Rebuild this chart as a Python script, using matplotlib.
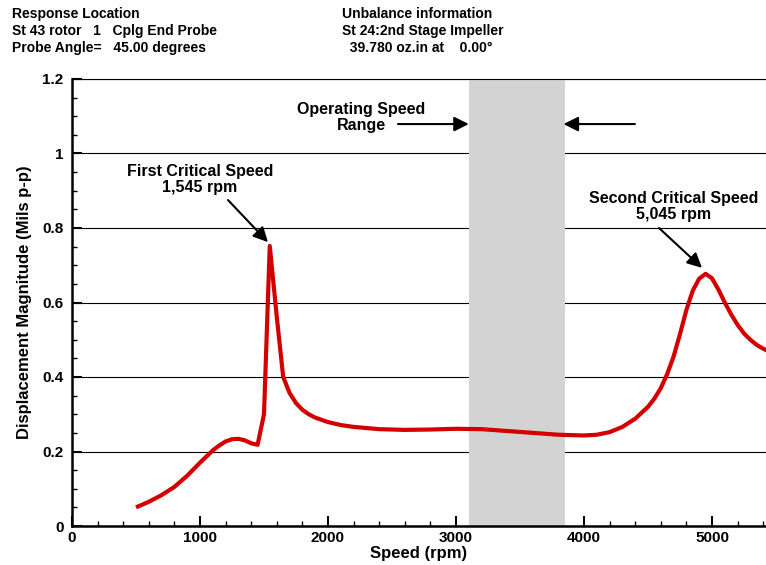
import matplotlib
matplotlib.use('Agg')
import matplotlib.pyplot as plt
from matplotlib.ticker import MultipleLocator

plt.rcParams['font.family'] = ['Liberation Sans', 'DejaVu Sans']
plt.rcParams['font.weight'] = 'bold'

# response curve
speed = [500, 600, 700, 800, 900, 1000, 1100, 1150, 1200, 1250, 1300, 1350,
         1400, 1450, 1500, 1545, 1600, 1650, 1700, 1750, 1800, 1850, 1900,
         2000, 2100, 2200, 2400, 2600, 2800, 3000, 3200, 3400, 3600, 3800,
         4000, 4100, 4200, 4300, 4400, 4500, 4550, 4600, 4650, 4700, 4750,
         4800, 4850, 4900, 4950, 5000, 5050, 5100, 5150, 5200, 5250, 5300,
         5350, 5400, 5450]
amplitude = [0.050, 0.065, 0.083, 0.105, 0.135, 0.170, 0.203, 0.216, 0.227,
             0.233, 0.234, 0.230, 0.222, 0.218, 0.300, 0.752, 0.561, 0.400,
             0.357, 0.330, 0.312, 0.300, 0.291, 0.279, 0.271, 0.266, 0.260,
             0.258, 0.259, 0.261, 0.260, 0.255, 0.250, 0.245, 0.243, 0.245,
             0.252, 0.266, 0.288, 0.320, 0.342, 0.370, 0.408, 0.455, 0.515,
             0.580, 0.632, 0.664, 0.677, 0.665, 0.635, 0.600, 0.568, 0.540,
             0.517, 0.500, 0.486, 0.476, 0.468]

op_range = [3100, 3850]

header_left = ['Response Location', 'St 43 rotor   1   Cplg End Probe',
               'Probe Angle=   45.00 degrees']
header_right = ['Unbalance information', 'St 24:2nd Stage Impeller',
                '  39.780 oz.in at    0.00\u00b0']

fig = plt.figure(figsize=(7.66, 5.65), dpi=100)
ax = fig.add_axes([72 / 766, 39 / 565, 694 / 766, 447 / 565])

ax.axvspan(op_range[0], op_range[1], color='#d3d3d3', zorder=2, lw=0)
ax.plot(speed, amplitude, color='#d40000', lw=3, zorder=3,
        solid_joinstyle='round', solid_capstyle='butt')

ax.set_xlim(0, 5422)
ax.set_ylim(0, 1.2)
ax.xaxis.set_major_locator(MultipleLocator(1000))
ax.xaxis.set_minor_locator(MultipleLocator(200))
ax.yaxis.set_minor_locator(MultipleLocator(0.05))
ax.set_yticks([0, 0.2, 0.4, 0.6, 0.8, 1.0, 1.2])
ax.set_yticklabels(['0', '0.2', '0.4', '0.6', '0.8', '1', '1.2'])
ax.grid(axis='y', which='major', color='black', lw=0.8, zorder=1)
ax.set_axisbelow(True)

ax.tick_params(which='both', direction='in', top=False, right=False, labelsize=11)
ax.tick_params(which='major', length=7, width=1.5)
ax.tick_params(which='minor', length=3.5, width=1)
ax.tick_params(axis='y', which='major', pad=6)
for lab in ax.get_xticklabels() + ax.get_yticklabels():
    lab.set_fontweight('bold')
ax.spines['right'].set_visible(False)
ax.spines['left'].set_linewidth(1.8)
ax.spines['bottom'].set_linewidth(1.8)
ax.spines['top'].set_linewidth(0.8)

ax.set_xlabel('Speed (rpm)', fontsize=12, fontweight='bold', labelpad=1)
ax.set_ylabel('Displacement Magnitude (Mils p-p)', fontsize=12, fontweight='bold',
              labelpad=7.5)

arrow = dict(arrowstyle='-|>', color='black', lw=1.5, mutation_scale=22,
             shrinkA=0, shrinkB=0)
ax.annotate('', xy=(1531, 0.762), xytext=(1219, 0.875), arrowprops=arrow)
ax.text(1000, 0.93, 'First Critical Speed\n1,545 rpm', ha='center', va='center',
        fontsize=11.5, fontweight='bold', linespacing=1.05)
ax.annotate('', xy=(4922, 0.693), xytext=(4586, 0.80), arrowprops=arrow)
ax.text(4700, 0.858, 'Second Critical Speed\n5,045 rpm', ha='center', va='center',
        fontsize=11.5, fontweight='bold', linespacing=1.05)
ax.annotate('', xy=(op_range[0], 1.079), xytext=(2547, 1.079), arrowprops=arrow)
ax.annotate('', xy=(op_range[1] - 10, 1.079), xytext=(4398, 1.079), arrowprops=arrow)
ax.text(2260, 1.097, 'Operating Speed\nRange', ha='center', va='center',
        fontsize=11.5, fontweight='bold', linespacing=1.05)

for i, s in enumerate(header_left):
    fig.text(12 / 766, 1 - (14 + 17 * i) / 565, s, ha='left', va='center',
             fontsize=10, fontweight='bold')
for i, s in enumerate(header_right):
    fig.text(342 / 766, 1 - (14 + 17 * i) / 565, s, ha='left', va='center',
             fontsize=10, fontweight='bold')

fig.savefig('out.png', dpi=100)
